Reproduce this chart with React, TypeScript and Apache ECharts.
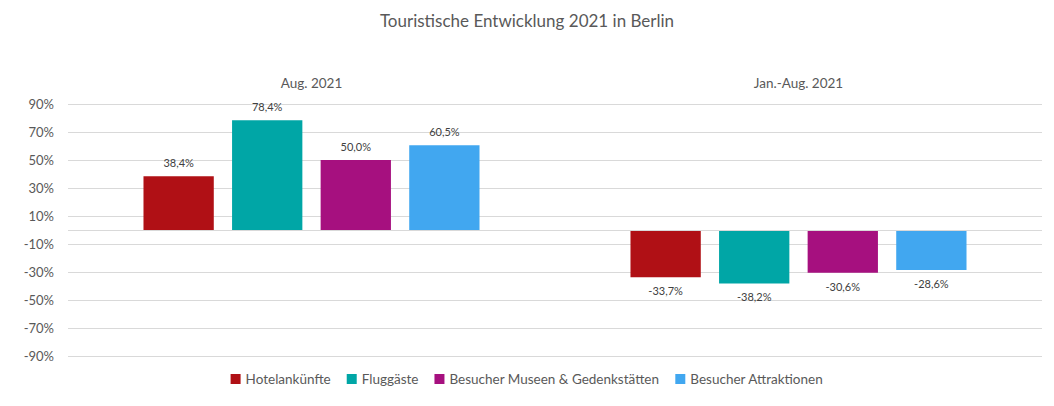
import React, { useEffect, useRef } from "react";
import * as echarts from "echarts";

const title = "Touristische Entwicklung 2021 in Berlin";
const categories = ["Aug. 2021", "Jan.-Aug. 2021"];
const seriesNames = [
  "Hotelankünfte",
  "Fluggäste",
  "Besucher Museen & Gedenkstätten",
  "Besucher Attraktionen",
];
const hotelankuenfte = [38.4, -33.7];
const fluggaeste = [78.4, -38.2];
const museen = [50.0, -30.6];
const attraktionen = [60.5, -28.6];
const seriesValues = [hotelankuenfte, fluggaeste, museen, attraktionen];
const colors = ["#B01015", "#00A6A6", "#A6107F", "#41A7F0"];
const yMin = -90;
const yMax = 90;
const yInterval = 20;

const FONT = "Lato, 'Open Sans', sans-serif";

function fmt(v: number) {
  return v.toFixed(1).replace(".", ",") + "%";
}

export default function App() {
  const ref = useRef<HTMLDivElement>(null);
  useEffect(() => {
    document.body.style.margin = "0";
    if (!ref.current) return;
    const chart = echarts.init(ref.current, null, { renderer: "svg" });
    const series = seriesNames.map((name, i) => ({
      name,
      type: "bar",
      barGap: "26%",
      barCategoryGap: "31%",
      itemStyle: { color: colors[i] },
      data: seriesValues[i].map((v) => ({
        value: v,
        label: { position: v >= 0 ? "top" : "bottom" },
      })),
      label: {
        show: true,
        distance: 8,
        color: "#404040",
        fontSize: 11,
        fontFamily: FONT,
        formatter: (p: any) => fmt(p.value),
      },
      ...(i === 0
        ? {
            markLine: {
              silent: true,
              symbol: "none",
              label: { show: false },
              lineStyle: { color: "#D9D9D9", type: "solid", width: 1 },
              data: [{ yAxis: 0 }],
            },
          }
        : {}),
    }));
    chart.setOption({
      animation: false,
      textStyle: { fontFamily: FONT },
      title: {
        text: title,
        left: "center",
        top: 7,
        textStyle: {
          fontSize: 17,
          fontWeight: "normal",
          color: "#595959",
          fontFamily: FONT,
        },
      },
      legend: {
        bottom: 15,
        left: "center",
        icon: "rect",
        itemWidth: 10,
        itemHeight: 10,
        itemGap: 16,
        textStyle: {
          fontSize: 13.5,
          color: "#595959",
          fontFamily: FONT,
        },
        data: seriesNames,
      },
      grid: { left: 68, right: 12, top: 104, bottom: 50 },
      xAxis: {
        type: "category",
        position: "top",
        data: categories,
        axisLine: { show: false, onZero: false },
        axisTick: { show: false },
        axisLabel: {
          color: "#595959",
          fontSize: 13.5,
          margin: 14,
          fontFamily: FONT,
        },
      },
      yAxis: {
        type: "value",
        min: yMin,
        max: yMax,
        interval: yInterval,
        axisLine: { show: false },
        axisTick: { show: false },
        splitLine: { lineStyle: { color: "#D9D9D9", width: 1 } },
        axisLabel: {
          color: "#595959",
          fontSize: 13,
          margin: 14,
          fontFamily: FONT,
          formatter: "{value}%",
        },
      },
      series,
    });
    return () => chart.dispose();
  }, []);
  return <div ref={ref} style={{ width: 1054, height: 406 }} />;
}
